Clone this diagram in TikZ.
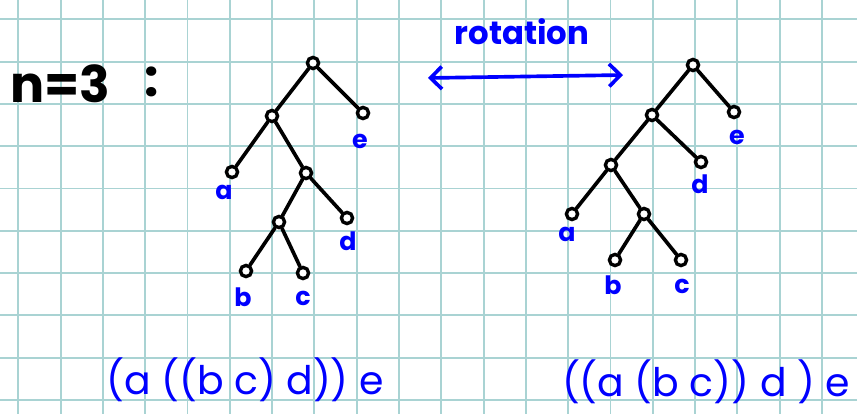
\documentclass[tikz,border=0pt]{standalone}
\usepackage{fontspec}
\setmainfont{Poppins}
\usetikzlibrary{arrows.meta}
\definecolor{cink}{HTML}{0000FF}
\definecolor{cgrid}{HTML}{A9D3D3}
\tikzset{
  every picture/.style={x=0.025cm, y=-0.025cm},
  vtx/.style={circle, draw=black, fill=white, line width=2.4pt, inner sep=0pt, minimum size=8pt},
  branch/.style={draw=black, line width=2.6pt, line cap=round},
  leaf/.style={text=cink, inner sep=0pt, font=\fontsize{18}{18}\selectfont\bfseries},
  expr/.style={text=cink, inner sep=0pt, font=\fontsize{28}{28}\selectfont},
  gridline/.style={draw=cgrid, line width=1.3pt},
  swap/.style={draw=cink, line width=2.6pt, line cap=round, {Straight Barb[length=8pt, width=16pt]}-{Straight Barb[length=8pt, width=16pt]}},
}

\begin{document}
\begin{tikzpicture}
  \useasboundingbox[fill=white] (0,0) rectangle (857,414);
  % squared paper
  \foreach \k in {0,...,20} \draw[gridline] (18.3+42.3*\k,0) -- ++(0,414);
  \foreach \k in {0,...,9} \draw[gridline] (0,19.3+42.3*\k) -- ++(857,0);

  \node[inner sep=0pt, font=\fontsize{36}{36}\selectfont\bfseries] (title) at (60,84) {n=3};
  \node[inner sep=0pt, font=\fontsize{36}{36}\selectfont\bfseries] (colon) at (152,82) {:};

  % left tree
  \node[vtx] (r1) at (313,63) {};
  \node[vtx] (u1) at (272,116) {};
  \node[vtx] (e1) at (363,113) {};
  \node[vtx] (a1) at (232,172) {};
  \node[vtx] (v1) at (306,173) {};
  \node[vtx] (w1) at (279,222) {};
  \node[vtx] (d1) at (347,218) {};
  \node[vtx] (b1) at (246,271) {};
  \node[vtx] (c1) at (303,273) {};
  \draw[branch] (r1) -- (u1);
  \draw[branch] (r1) -- (e1);
  \draw[branch] (u1) -- (a1);
  \draw[branch] (u1) -- (v1);
  \draw[branch] (v1) -- (w1);
  \draw[branch] (v1) -- (d1);
  \draw[branch] (w1) -- (b1);
  \draw[branch] (w1) -- (c1);
  \node[leaf] (la1) at (224,192) {a};
  \node[leaf] (lb1) at (243,297) {b};
  \node[leaf] (lc1) at (303,298) {c};
  \node[leaf] (ld1) at (348,241) {d};
  \node[leaf] (le1) at (360,141) {e};
  \node[expr] (f1) at (245,380) {(a ((b c) d)) e};

  % rotation
  \node[text=cink, inner sep=0pt, font=\fontsize{23}{23}\selectfont\bfseries] (rot) at (522,32) {rotation};
  \coordinate (rotL) at (428,78);
  \coordinate (rotR) at (623,75);
  \draw[swap] (rotL) -- (rotR);

  % right tree
  \node[vtx] (r2) at (693,65) {};
  \node[vtx] (u2) at (652,115) {};
  \node[vtx] (e2) at (734,112) {};
  \node[vtx] (v2) at (611,165) {};
  \node[vtx] (d2) at (701,162) {};
  \node[vtx] (a2) at (572,214) {};
  \node[vtx] (w2) at (644,214) {};
  \node[vtx] (b2) at (615,260) {};
  \node[vtx] (c2) at (681,260) {};
  \draw[branch] (r2) -- (u2);
  \draw[branch] (r2) -- (e2);
  \draw[branch] (u2) -- (v2);
  \draw[branch] (u2) -- (d2);
  \draw[branch] (v2) -- (a2);
  \draw[branch] (v2) -- (w2);
  \draw[branch] (w2) -- (b2);
  \draw[branch] (w2) -- (c2);
  \node[leaf] (la2) at (567,234) {a};
  \node[leaf] (lb2) at (613,285) {b};
  \node[leaf] (lc2) at (682,286) {c};
  \node[leaf] (ld2) at (700,184) {d};
  \node[leaf] (le2) at (737,137) {e};
  \node[expr] (f2) at (706,382) {((a (b c)) d ) e};
\end{tikzpicture}
\end{document}
